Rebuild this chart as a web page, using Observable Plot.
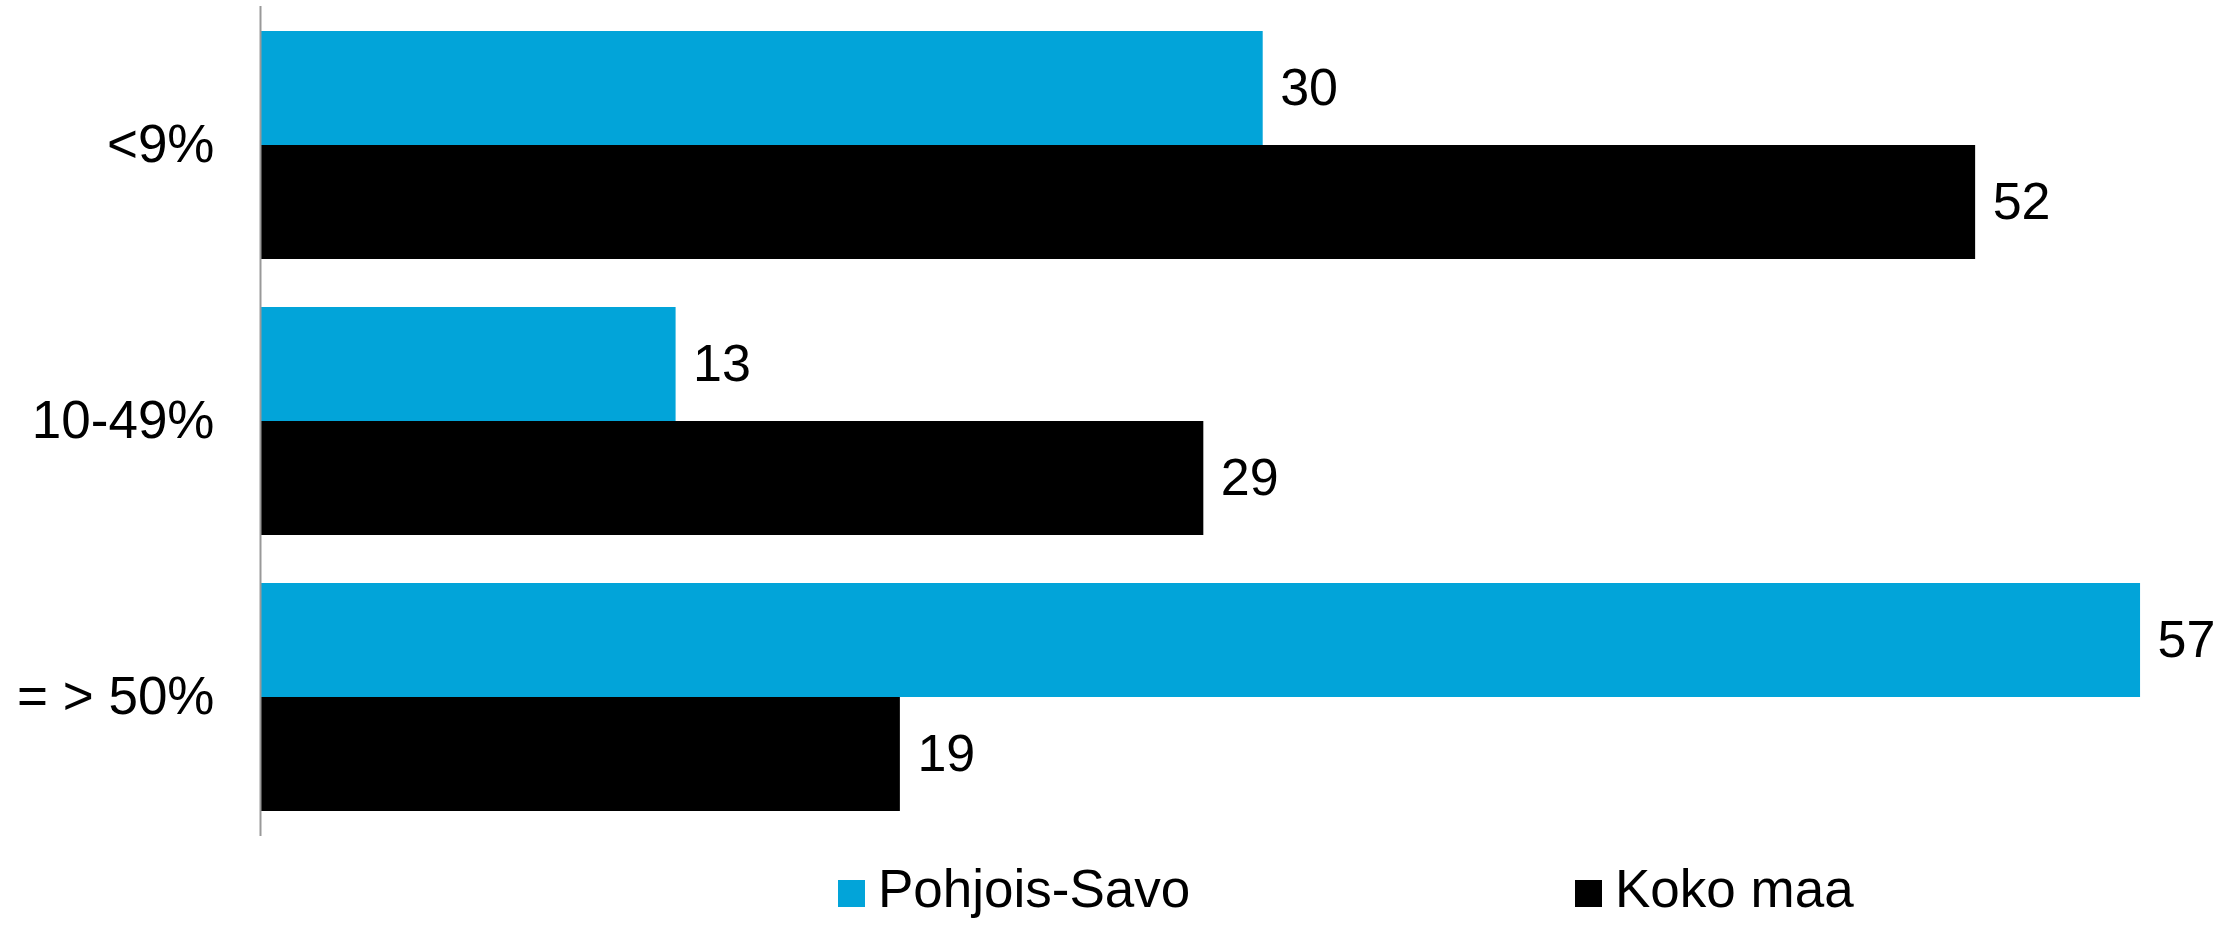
<!DOCTYPE html>
<html>
<head>
<meta charset="utf-8">
<script src="https://cdn.jsdelivr.net/npm/d3@7"></script>
<script src="https://cdn.jsdelivr.net/npm/@observablehq/plot@0.6"></script>
<style>
  html, body { margin: 0; padding: 0; background: #fff; }
  body { width: 2239px; height: 926px; overflow: hidden; font-family: "Liberation Sans", Arial, sans-serif; }
  #legend { position: relative; width: 2239px; height: 76px; font-family: "Liberation Sans", Arial, sans-serif; font-size: 53px; color: #000; }
  .item { position: absolute; top: 0; height: 76px; display: flex; align-items: center; }
  .sw { width: 27px; height: 27px; margin-top: 10px; }
</style>
</head>
<body>
<div id="chart"></div>
<div id="legend"></div>
<script>
const categories = ["<9%", "10-49%", "= > 50%"];
const series = ["Pohjois-Savo", "Koko maa"];
const pohjoisSavo = [30.4, 12.6, 57.0];
const kokoMaa = [52.0, 28.6, 19.4];
const valueLabels = { "Pohjois-Savo": ["30", "13", "57"], "Koko maa": ["52", "29", "19"] };
const colors = ["#02A4D9", "#000000"];

const rows = [];
categories.forEach((c, i) => {
  rows.push({ category: c, series: series[0], value: pohjoisSavo[i], label: valueLabels[series[0]][i] });
  rows.push({ category: c, series: series[1], value: kokoMaa[i], label: valueLabels[series[1]][i] });
});

const plot = Plot.plot({
  width: 2239,
  height: 850,
  marginLeft: 260,
  marginRight: 0,
  marginTop: 7,
  marginBottom: 15,
  style: { fontFamily: "Liberation Sans, Arial, sans-serif", fontSize: "53px", color: "#000", background: "#fff" },
  x: { domain: [0, 60], axis: null },
  y: { domain: series, padding: 0, axis: null },
  fy: { domain: categories, paddingInner: 0.17, paddingOuter: 0.085, label: null, tickSize: 0, tickPadding: 46 },
  color: { domain: series, range: colors },
  marks: [
    Plot.barX(rows, { fy: "category", y: "series", x: "value", fill: "series" }),
    Plot.text(rows, { fy: "category", y: "series", x: "value", text: "label", dx: 17, textAnchor: "start", fontSize: 52, fill: "#000" }),
    Plot.frame({ facet: "super", anchor: "left", stroke: "#999", strokeWidth: 2, insetTop: -23.5, insetBottom: -23.5 })
  ]
});
document.getElementById("chart").appendChild(plot);

const legend = document.getElementById("legend");
const lefts = [838, 1575];
series.forEach((s, i) => {
  const item = document.createElement("div");
  item.className = "item";
  item.style.left = lefts[i] + "px";
  const sw = document.createElement("div");
  sw.className = "sw";
  sw.style.background = colors[i];
  sw.style.marginRight = "13px";
  const t = document.createElement("span");
  t.textContent = s;
  item.appendChild(sw);
  item.appendChild(t);
  legend.appendChild(item);
});
</script>
</body>
</html>
